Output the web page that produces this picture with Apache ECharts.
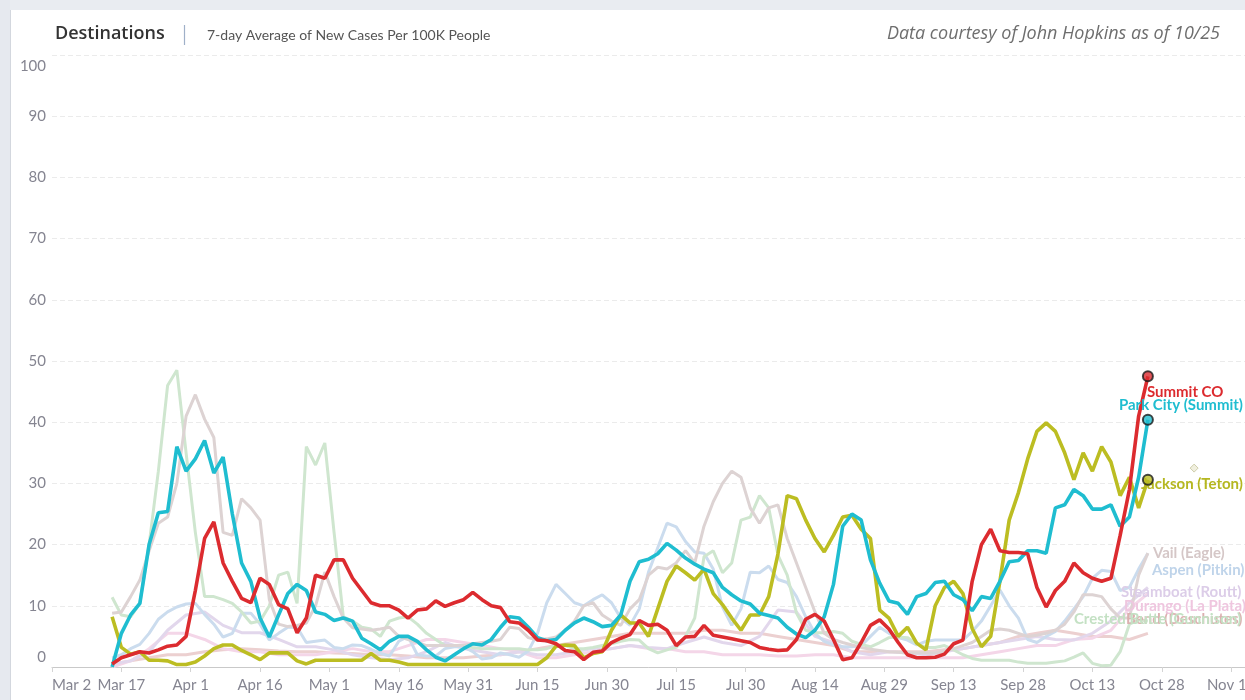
<!DOCTYPE html>
<html><head><meta charset="utf-8">
<script src="https://cdn.jsdelivr.net/npm/echarts/dist/echarts.min.js"></script>
<style>html,body{margin:0;padding:0;background:#fff;overflow:hidden}#c{width:1245px;height:700px}</style>
</head><body><div id="c"></div>
<script>
// x positions are days since Mar 2; every series starts on Mar 15 (day 13) and ends Oct 25 (day 237)
const startDay = 13;
const tickLabels = ['Mar 2','Mar 17','Apr 1','Apr 16','May 1','May 16','May 31','Jun 15','Jun 30','Jul 15','Jul 30','Aug 14','Aug 29','Sep 13','Sep 28','Oct 13','Oct 28','Nov 12'];
const yTicks = [0,10,20,30,40,50,60,70,80,90,100];

// 2-day step values
const summitCO = [
0.5,1.5,2,2.5,2.3,2.8,3.4,3.6,5,12.5,
21,23.7,17,14,11.2,10.5,14.5,13.5,10.2,9.5,
5.6,8,15,14.5,17.5,17.5,14.5,12.5,10.5,10,
10,9.3,8,9.3,9.5,10.8,9.9,10.5,11,12.2,
11,10,9.7,7.4,7.2,6,4.4,4.3,3.8,2.7,
2.5,1.2,2.4,2.6,4,4.7,5.3,7.6,6.8,7,
6,3.5,4.9,5,6.8,5.2,4.9,4.6,4.3,4,
3.2,2.9,2.7,2.8,4.5,7.8,8.6,7.5,4.5,1.2,
1.5,4,6.8,7.7,6.2,4,2,1.5,1.5,1.6,
2.1,3.8,4.4,14,20,22.5,19,18.7,18.7,18.5,
13,9.8,12.5,14,17,15.4,14.5,14,14.5,21.5,
29,41,47.5];
const parkCity = [
0,5.5,8.5,10.4,20,25.2,25.4,36,32,34,
37,31.7,34.3,25,17,14,8,4.9,8.5,12,
13.5,12.5,9,8.6,7.6,8,7.5,4.7,3.8,2.8,
4.2,5,5,4.2,2.8,1.6,1,2,3,3.8,
3.6,4.5,6.5,8.2,8,6.5,4.8,4.3,4.5,6,
7.2,8,7.4,6.6,6.8,8.5,14,17.2,17.6,18.5,
20.2,19.1,17.8,16.8,16,15.4,13,11.8,10.8,10.3,
8.8,8.4,8,6.5,5.4,4.8,6,8.2,13.5,23,
25,24,17.5,13.7,10.8,10.4,8.6,11.5,12,13.8,
14,11.8,11,9.2,11.5,11.2,14,17.2,17.4,19,
19,18.6,26,26.5,29,28,25.8,25.8,26.5,23,
24.5,31,40.4];
const jackson = [
8.2,3.2,2.1,2.5,1.1,1.1,1,0.4,0.4,0.8,
1.8,3,3.6,3.6,2.7,2,1.2,2.3,2.3,2.3,
1,0.5,1.1,1.1,1.1,1.1,1.1,1.1,2.2,1.1,
1.1,0.8,0.4,0.4,0.4,0.4,0.4,0.4,0.4,0.4,
0.4,0.4,0.4,0.4,0.4,0.4,0.4,1.5,3.4,3.6,
3.5,1.5,2.2,2.5,6,8.5,7.2,7.2,5,9.5,
14,16.5,15.4,14.2,16,12,10.2,8,6,8.5,
8.5,11.5,18.5,28,27.5,24,21,18.8,21.5,24.5,
24.8,22.5,21,9.3,8,5,6.5,3.9,2.8,10,
13,14,12,6.3,3.3,5,14,24,28.5,34,
38.5,39.9,38.5,35,30.6,35,32,36,33.5,28,
31,26,30.6];
const crestedButte = [
11.4,8.5,8.2,10.4,20,32,46,48.5,35,22,
11.5,11.5,11,10.4,9,7.2,7.5,10,15,15.5,
10.4,36,33,36.6,22,8.2,7.5,6.5,6.2,5,
7.5,8,8.2,7,5.5,4.5,3.5,3.5,3.5,3.2,
3,3,3,3,3,2.8,2.8,3,3.5,3.5,
3,3,3.2,3.5,3.8,4.2,4.5,4.4,3,2.3,
2.8,3.2,5,8,18,19,15.4,17,24,24.5,
28,26,18.3,15,8.8,6,5.6,5.6,5.8,5.5,
4.2,3.7,3.3,4,4.8,4.9,4.8,3.8,3.2,3.2,
3.5,2.8,2,1.4,1.1,1.1,1.1,1.1,0.8,0.6,
0.6,0.6,0.8,1,1.6,2.3,0.6,0.2,0.3,2.5,
7,7.7,7.5];
const vail = [
8.8,9,11.5,14.2,19,23.5,24.5,30,41,44.5,
40.5,37.5,22,21.5,27.5,26,24,11,7,6.6,
6.8,7.2,10,15.5,11.5,8,6.4,6.2,6,6.2,
6.5,5,4.5,4,3.5,3.5,3.5,3.5,3.5,3.8,
4,4.2,4.5,6.5,6.3,4.8,4.4,4.6,4.9,6,
7.5,10,10.5,8.5,7.5,6.8,9.5,11,15,16.3,
16,17,19,17,23,27,30,32,31,26,
23.5,26,26.5,21,17,13,9,5.5,4.5,4,
3.6,3.2,2.9,2.7,2.5,2.4,2.3,2.3,2.3,2.3,
2.6,3,3.5,4,5,6,6.2,6,5.5,5,
5.2,5.5,6,7,9,11.8,11.8,11.5,9.5,8,
8,15,18.6];
const aspen = [
1.5,2,3,3.7,5.5,7.8,9,9.8,10.3,10.4,
8.6,7,4.9,5.5,8.8,8.8,7,4.4,5.5,6.5,
6.5,4,4.2,4.4,3.2,3,3.6,3.5,2.9,2.2,
1.8,4.2,5,2,1.8,1.8,3,3.3,3.3,2.5,
1.3,1.5,2.3,2,1.6,2.6,5.5,10.5,13.5,12,
10.5,10,11,11.8,10.5,8,6.8,9.5,15.5,19.5,
23.5,22.9,20.5,18.8,18.6,16,9.8,6.8,9.5,15.5,
15.4,16.5,14.3,13.8,11.5,8.2,5.5,4.2,3.6,3.3,
3.3,3.5,5,6.5,5.5,4.8,4.4,3.6,4.2,4.4,
4.4,4.4,4.4,5.8,7.5,10,12.6,10,8,4.5,
4,5,5.8,7.5,9.5,11.5,14.5,15.8,15.6,12.5,
13,16,18.6];
// 4-day step values
const steamboat = [
0.5,1,2.5,6,8.5,9,6.8,5.6,5.6,4.5,
3.3,3.3,2.8,2,1.5,1.2,1.5,2.5,4,3,
2.5,2,2.5,2,2,2.5,3,3,3.5,3.2,
3,4,4.9,4,3.5,5,9.3,9,5,4,
2.5,2,2.5,2.3,2,2.5,3,3.5,4,4.5,
5,4.5,4.4,5.5,7.5,10.5,13];
const durango = [
0,1,3,5.5,5.5,4.5,3,2.5,2.5,2,
2,2,2.5,3,2.5,2.5,3.5,4.5,4.5,4,
3.5,3,2.5,1.5,1.5,2,2.5,3,3.5,3,
3,2.5,2.5,2,2,2,1.8,1.8,2,2,
1.5,1.5,1.5,1.5,1.5,1.5,1.5,2,2.5,3,
3.5,3.5,4.5,4.7,6,9.5,12];
const bend = [
0.5,1,1.5,2,2,2.5,2.8,3,2.8,2.6,
2.5,2.5,2.3,2.2,2,2,1.8,1.5,1.5,1.5,
1.8,2,2.5,3,3.5,4,4.5,5,5.5,5.5,
5.5,5.5,6,6,5.5,5.5,5,4.5,4,3.5,
2.5,2.5,2.5,2.5,2.5,2.8,3,3.5,4,5,
5.5,6,5.5,5,5,4.5,5.5];
const extraMarker = [[247, 32.5]];

const FONT = 'Lato, "Open Sans", sans-serif';
function pairs(vals, step){ return vals.map((v,i)=>[startDay + i*step, v]); }

function faded(name, vals, step, color, labelColor, offset){
  return {type:'line', name, data:pairs(vals, step), symbol:'none', smooth:false,
    lineStyle:{color, width:3}, itemStyle:{color}, z:2,
    endLabel:{show:true, formatter:name, color:labelColor, fontFamily:FONT, fontWeight:'bold', fontSize:15, offset, distance:0}};
}
function main(name, vals, color, labelColor, offset){
  return {type:'line', name, data:pairs(vals, 2), symbol:'none',
    lineStyle:{color, width:3.6}, itemStyle:{color}, z:3,
    endLabel:{show:true, formatter:name, color:labelColor, fontFamily:FONT, fontWeight:'bold', fontSize:15, offset, distance:0}};
}
const lastDay = startDay + (summitCO.length-1)*2;

const chart = echarts.init(document.getElementById('c'), null, {renderer:'canvas'});
chart.setOption({
  animation:false,
  backgroundColor:'#ffffff',
  grid:{left:52, right:0, top:55, bottom:33, containLabel:false, outerBoundsMode:'none'},
  xAxis:{type:'value', min:0, max:258, interval:15,
    axisLine:{show:true, lineStyle:{color:'#c9c9c9', width:1}},
    axisTick:{show:true, length:5, lineStyle:{color:'#d4d4d4'}},
    splitLine:{show:false},
    axisLabel:{color:'#858591', fontFamily:FONT, fontSize:15, margin:11, alignMinLabel:'left', showMaxLabel:true,
      formatter:v => (v % 15 === 0 ? (tickLabels[v/15] || '') : '')}},
  yAxis:{type:'value', min:0, max:100, interval:10,
    axisLine:{show:false}, axisTick:{show:false},
    splitLine:{show:true, lineStyle:{color:'#ebebeb', type:[5,3], width:1}},
    axisLabel:{color:'#858591', fontFamily:FONT, fontSize:15, margin:6,
      formatter:v => v===0 ? '{lo|0}' : (v===100 ? '{hi|100}' : String(v)),
      rich:{lo:{color:'#858591', fontFamily:FONT, fontSize:15, padding:[0,0,20,0]},
            hi:{color:'#858591', fontFamily:FONT, fontSize:15, padding:[22,0,0,0]}}}},
  graphic:[
    {type:'rect', shape:{x:0,y:0,width:1245,height:10}, style:{fill:'#e9ecf1'}, silent:true, z:100},
    {type:'rect', shape:{x:0,y:0,width:10,height:700}, style:{fill:'#e6e9ef'}, silent:true, z:100},
    {type:'line', shape:{x1:10.5,y1:10,x2:10.5,y2:700}, style:{stroke:'#d3d7de', lineWidth:1}, silent:true, z:100},
    {type:'text', style:{x:55, y:34, text:'Destinations', font:'600 18px "Open Sans", sans-serif', fill:'#333333', verticalAlign:'middle', align:'left'}, z:100},
    {type:'line', shape:{x1:184.5,y1:25,x2:184.5,y2:45}, style:{stroke:'#9fb0c8', lineWidth:1.2}, z:100},
    {type:'text', style:{x:207, y:35, text:'7-day Average of New Cases Per 100K People', font:'14px Lato, sans-serif', fill:'#555555', verticalAlign:'middle', align:'left'}, z:100},
    {type:'text', style:{x:1220, y:34, text:'Data courtesy of John Hopkins as of 10/25', font:'italic 18px "Open Sans", sans-serif', fill:'#6e6e6e', verticalAlign:'middle', align:'right'}, z:100}
  ],
  series:[
    faded('Bend (Deschutes)', bend, 4, '#ecd0d0', '#dcb0b0', [-22,-14]),
    faded('Durango (La Plata)', durango, 4, '#f4d6e8', '#efc6df', [-24,13]),
    faded('Steamboat (Routt)', steamboat, 4, '#e2d7ec', '#dccde8', [-27,5]),
    faded('Aspen (Pitkin)', aspen, 2, '#cbdcee', '#bfd4ea', [4,17]),
    faded('Crested Butte (Gunnison)', crestedButte, 2, '#cfe6cf', '#c4e1c4', [-74,-2]),
    faded('Vail (Eagle)', vail, 2, '#ddd3d3', '#d5c7c7', [5,0]),
    main('Jackson (Teton)', jackson, '#bcbd22', '#b5b720', [-7,4]),
    main('Park City (Summit)', parkCity, '#1fbdd0', '#1fbdd0', [-29,-15]),
    main('Summit CO', summitCO, '#dc2b2f', '#dc2b2f', [-1,16]),
    {type:'scatter', name:'ends', z:5, symbol:'circle', symbolSize:10,
      data:[
        {value:[lastDay, jackson[jackson.length-1]], itemStyle:{color:'#bcbd22'}},
        {value:[lastDay, parkCity[parkCity.length-1]], itemStyle:{color:'#1fbdd0'}},
        {value:[lastDay, summitCO[summitCO.length-1]], itemStyle:{color:'#dc2b2f'}}
      ],
      itemStyle:{borderColor:'#1a1a1a', borderWidth:2}},
    {type:'scatter', name:'marker', z:5, symbol:'diamond', symbolSize:8, data:extraMarker,
      itemStyle:{color:'#ecebd6', borderColor:'#c4c39a', borderWidth:1}}
  ]
});
</script></body></html>
